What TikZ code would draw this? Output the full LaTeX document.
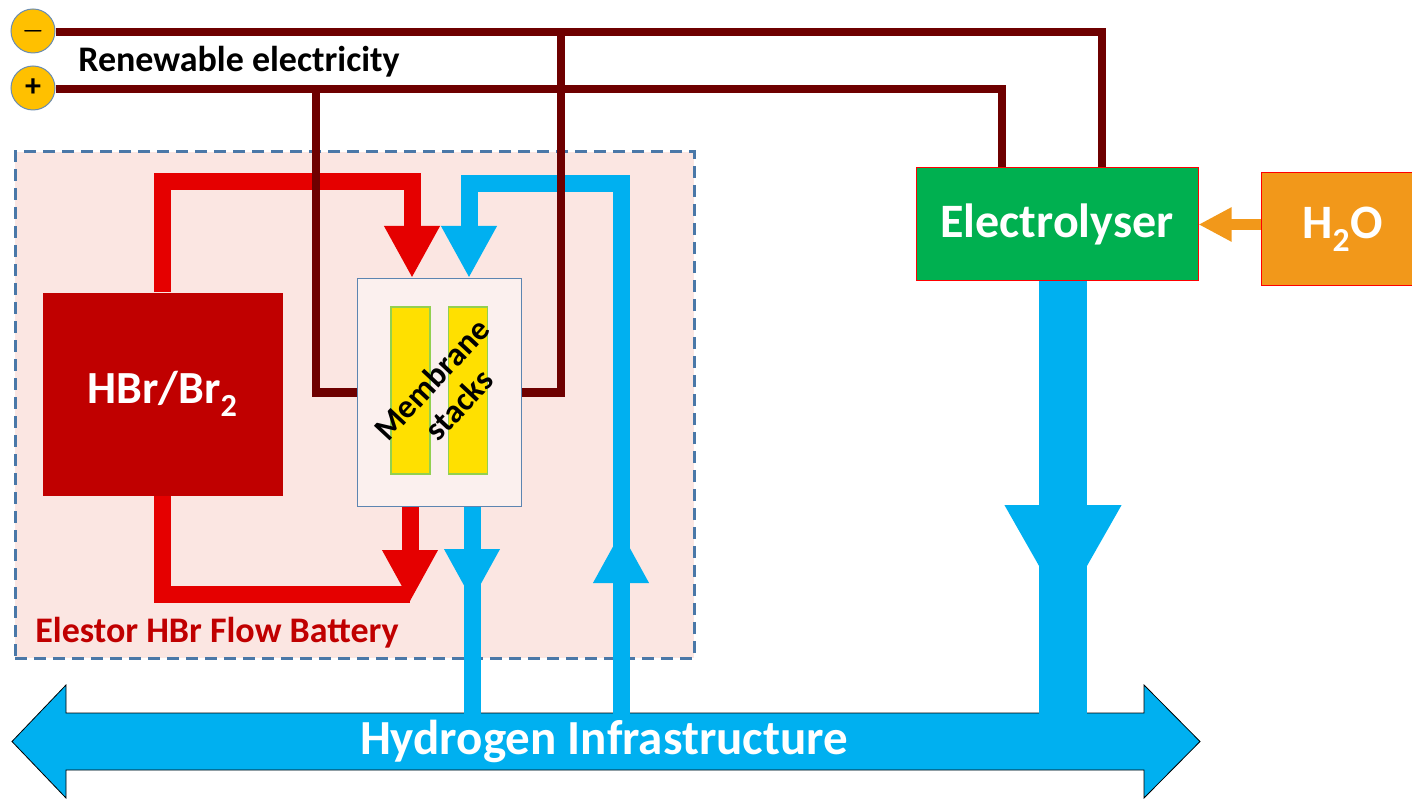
\documentclass[tikz,border=0pt]{standalone}
\usepackage{fontspec}
\setmainfont{Carlito}
\usetikzlibrary{arrows.meta, positioning, calc}
\definecolor{WireRed}{HTML}{6E0000}
\definecolor{FlowRed}{HTML}{E50000}
\definecolor{TankRed}{HTML}{C00000}
\definecolor{FlowBlue}{HTML}{00B0F0}
\definecolor{BattPink}{HTML}{FBE6E2}
\definecolor{FrameBlue}{HTML}{4A78A8}
\definecolor{StackFill}{HTML}{FBF0EE}
\definecolor{BarYellow}{HTML}{FFE000}
\definecolor{BarEdge}{HTML}{92D050}
\definecolor{ElecGreen}{HTML}{00B050}
\definecolor{WaterOrange}{HTML}{F2981A}
\definecolor{TermGold}{HTML}{FFC000}
\definecolor{TermEdge}{HTML}{6A8CB0}

\begin{document}
\begin{tikzpicture}[x=1pt, y=-1pt,
          wire/.style={draw=WireRed, line width=8.5pt},
          redflow/.style={draw=FlowRed, line width=17pt},
          blueflow/.style={draw=FlowBlue, line width=17pt},
          flowhead/.style={-{Triangle[width=52pt,length=52pt]}},
          term/.style={circle, draw=TermEdge, fill=TermGold, line width=1pt,
                        minimum size=44pt, inner sep=0pt,
                        font=\fontsize{32}{32}\selectfont\bfseries\boldmath},
          solidbox/.style={rectangle, draw=red, line width=1pt, text=white,
                        font=\fontsize{48}{50}\selectfont\bfseries},
          bar/.style={rectangle, draw=BarEdge, fill=BarYellow, line width=1.2pt,
                        minimum width=39pt, minimum height=167pt},
          lbl/.style={font=\fontsize{36}{37}\selectfont\bfseries, inner sep=0pt}
        ]
          \useasboundingbox (0,0) rectangle (1412,799);
          % battery frame
          \node[rectangle, draw=FrameBlue, fill=BattPink, line width=3pt,
                dash pattern=on 12pt off 7pt, minimum width=679pt,
                minimum height=506pt] (batt) at (354.5,405) {};
          \node[rectangle, fill=TankRed, draw=BattPink, line width=0.8pt,
                minimum width=241pt, minimum height=204pt, text=white,
                font=\fontsize{46}{48}\selectfont\bfseries] (hbr) at (162.5,394)
                {HBr/Br\textsubscript{2}};
          \node[rectangle, draw=FrameBlue!90, fill=StackFill, line width=1pt,
                minimum width=164pt, minimum height=228pt] (stack) at (439.5,392.5) {};
          \node[bar] (bar1) at (410.5,390.5) {};
          \node[bar] (bar2) at (468,390.5) {};
          \node[rotate=47, align=center, inner sep=0pt,
                font=\fontsize{33}{37}\selectfont\bfseries] (stacklbl) at (445,392)
                {Membrane\\stacks};
          \node[lbl, text=TankRed] (battlbl) at (217,633) {Elestor HBr Flow Battery};

          % electrolyser side
          \node[solidbox, fill=ElecGreen, minimum width=282pt, minimum height=113pt]
                (elec) at (1057,224.5) {Electrolyser};
          \node[solidbox, fill=WaterOrange, minimum width=163pt, minimum height=113pt]
                (water) at (1342.5,229.5) {H\textsubscript{2}O};
          \draw[draw=WaterOrange, line width=11pt, -{Triangle[width=32pt,length=33pt]}]
                (elec.east -| water.west) -- (elec.east);

          % hydrogen infrastructure
          \fill[FlowBlue, draw=black, line width=0.8pt]
                (12,741.5) -- (66,685) -- (66,713) -- (1144,713) -- (1144,685)
                -- (1200,741.5) -- (1144,798) -- (1144,770) -- (66,770) -- (66,798) -- cycle;
          \node[font=\fontsize{49}{50}\selectfont\bfseries, text=white] (infra)
                at (604,741) {Hydrogen Infrastructure};

          % electrolyte loop
          \draw[redflow, flowhead] (hbr.north) |- (412,182) -- (stack.north -| 412,0);
          \draw[redflow] (hbr.south) |- (410,594);
          \draw[redflow, flowhead] (stack.south -| 410,0) -- (410,602);

          % hydrogen loop
          \draw[blueflow, flowhead] (621,716) |- (469,184) -- (stack.north -| 469,0);
          \draw[blueflow, flowhead] (621,600) -- (621,531);
          \draw[blueflow] (stack.south -| 472,0) -- (472,716);
          \draw[blueflow, flowhead] (472,540) -- (472,601);
          \draw[draw=FlowBlue, line width=48pt] (elec.south -| 1063,0) -- (1063,716);
          \draw[draw=FlowBlue, line width=48pt, -{Triangle[width=109pt,length=105pt]}]
                (1063,490) -- (1063,610);

          % electricity
          \node[term] (minus) at (33,31) {$-$};
          \node[term] (plus) at (33,88) {+};
          \node[lbl] (renew) at (239,62) {Renewable electricity};
          \coordinate (mtap) at (561,32);
          \coordinate (ptap) at (316,89);
          \draw[wire] (minus.east |- mtap) -| ([xshift=45pt]elec.north);
          \draw[wire] (plus.east |- ptap) -| ([xshift=-55pt]elec.north);
          \draw[wire] (ptap) |- (stack.west);
          \draw[wire] (mtap) |- (stack.east);
        \end{tikzpicture}
\end{document}
